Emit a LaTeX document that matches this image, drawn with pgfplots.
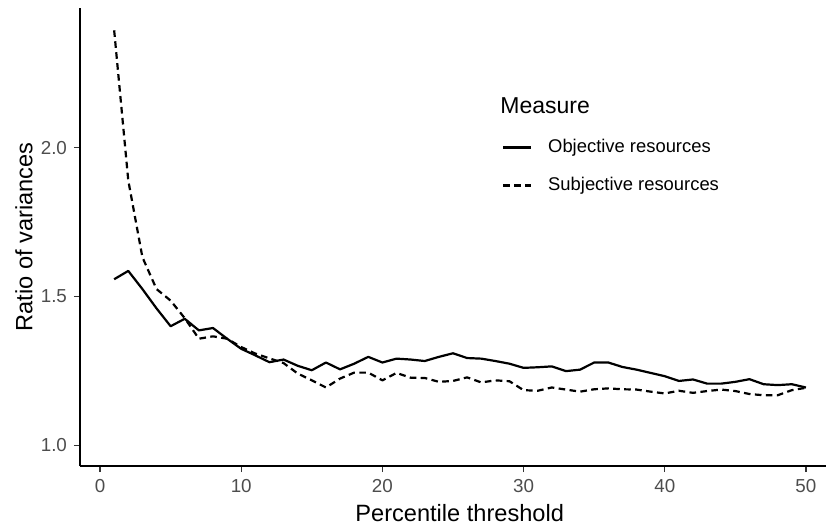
\documentclass[border=0pt]{standalone}
\usepackage{pgfplots}
\pgfplotsset{compat=1.18}
\usepackage{fontspec}
\setmainfont{Liberation Sans}
\definecolor{gray30}{HTML}{4D4D4D}
\definecolor{gray20}{HTML}{333333}

\pgfplotstableread{
x y
1 1.558
2 1.586
3 1.525
4 1.460
5 1.400
6 1.425
7 1.386
8 1.394
9 1.358
10 1.324
11 1.302
12 1.279
13 1.288
14 1.267
15 1.252
16 1.278
17 1.255
18 1.274
19 1.297
20 1.278
21 1.291
22 1.288
23 1.283
24 1.297
25 1.309
26 1.293
27 1.291
28 1.283
29 1.274
30 1.260
31 1.262
32 1.265
33 1.249
34 1.254
35 1.278
36 1.278
37 1.263
38 1.254
39 1.243
40 1.232
41 1.216
42 1.221
43 1.207
44 1.207
45 1.213
46 1.222
47 1.205
48 1.202
49 1.205
50 1.194
}\objective

\pgfplotstableread{
x y
1 2.395
2 1.890
3 1.632
4 1.525
5 1.486
6 1.427
7 1.358
8 1.366
9 1.358
10 1.330
11 1.308
12 1.292
13 1.276
14 1.241
15 1.218
16 1.194
17 1.224
18 1.244
19 1.244
20 1.218
21 1.243
22 1.227
23 1.226
24 1.213
25 1.216
26 1.228
27 1.211
28 1.218
29 1.215
30 1.185
31 1.183
32 1.194
33 1.187
34 1.180
35 1.188
36 1.191
37 1.188
38 1.187
39 1.180
40 1.174
41 1.183
42 1.176
43 1.182
44 1.187
45 1.182
46 1.172
47 1.168
48 1.168
49 1.185
50 1.193
}\subjective

\begin{document}
\begin{tikzpicture}
\begin{axis}[
  width=373pt, height=229pt, scale only axis,
  xmin=-1.42, xmax=51.42, ymin=0.93, ymax=2.47,
  axis x line*=bottom, axis y line*=left,
  axis line style={line width=1pt, black},
  xtick={0,10,20,30,40,50},
  ytick={1,1.5,2},
  yticklabel style={/pgf/number format/.cd, fixed, fixed zerofill, precision=1},
  /pgf/number format/assume math mode=true,
  tick align=outside,
  major tick length=3pt,
  tick style={line width=0.6pt, color=gray20},
  tick label style={font=\fontsize{9.4}{10}\selectfont, text=gray30},
  xlabel={Percentile threshold},
  ylabel={Ratio of variances},
  every axis x label/.style={at={(axis description cs:0.509,-0.1026)}, anchor=center, font=\fontsize{11.8}{13}\selectfont},
  every axis y label/.style={at={(axis description cs:-0.075,0.5)}, rotate=90, anchor=center, font=\fontsize{11.8}{13}\selectfont},
  legend style={at={(axis cs:28.47,2.031)}, anchor=north west, draw=none, fill=none,
    inner sep=0pt, outer sep=0pt,
    font=\fontsize{9.2}{11}\selectfont, row sep=10pt, column sep=8pt,
    nodes={inner sep=0pt, text height=7pt, text depth=2pt}},
  legend cell align=left,
  legend image code/.code={\draw[#1] (0pt,0pt) -- (14pt,0pt);},
]
\addplot[black, line width=1.1pt, line join=round] table[x=x, y=y] {\objective};
\addlegendentry{Objective resources}
\addplot[black, line width=1.1pt, line join=round, dash pattern=on 3.3pt off 2.2pt] table[x=x, y=y] {\subjective};
\addlegendentry{Subjective resources}
\node[anchor=west, inner sep=0pt, font=\fontsize{11.5}{13}\selectfont] at (axis cs:28.33,2.140) {Measure};
\end{axis}
\pgfresetboundingbox
\path[use as bounding box] (-40pt,-30.5pt) rectangle (373pt,233pt);
\end{tikzpicture}
\end{document}
